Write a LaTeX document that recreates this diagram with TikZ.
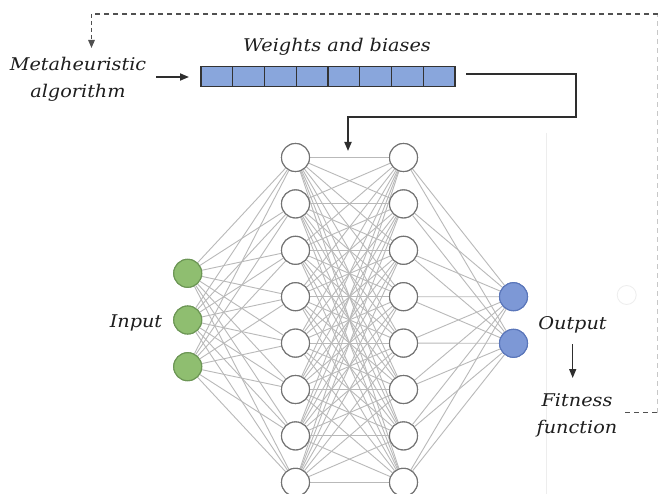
\documentclass[tikz,border=0pt]{standalone}
\usepackage{fontspec}
\newfontfamily\lblfont[FakeStretch=1.1]{DejaVu Serif}
\usetikzlibrary{arrows.meta}
\definecolor{ingreen}{RGB}{143,190,112}
\definecolor{ingreenb}{RGB}{108,150,85}
\definecolor{outblue}{RGB}{125,152,214}
\definecolor{outblueb}{RGB}{90,118,186}
\definecolor{cellblue}{RGB}{137,166,220}
\definecolor{edgegray}{RGB}{185,185,185}
\definecolor{dashgray}{RGB}{80,80,80}
\definecolor{txtgray}{RGB}{30,30,30}
\tikzset{
  lbl/.style={font=\lblfont\itshape\fontsize{17.5}{27}\selectfont, text=txtgray, inner sep=0pt, align=center},
  neuron/.style={circle, minimum size=28pt, inner sep=0pt, line width=1.1pt},
  hid/.style={neuron, draw=black!55, fill=white},
  inp/.style={neuron, draw=ingreenb, fill=ingreen},
  outn/.style={neuron, draw=outblueb, fill=outblue},
  cell/.style={draw=black!80, fill=cellblue, line width=1.1pt, minimum width=31.75pt, minimum height=20pt, inner sep=0pt, outer sep=0pt},
  conn/.style={draw=edgegray, line width=0.9pt},
  flow/.style={draw=black!82, line width=1.7pt},
  loop/.style={draw=dashgray, line width=1.4pt, dash pattern=on 5pt off 4pt},
  tip/.style={-{Triangle[length=9pt,width=7pt]}},
}
\begin{document}
\begin{tikzpicture}[x=1pt,y=-1pt]
\useasboundingbox (0,0) rectangle (658,494);
\fill[white] (0,0) rectangle (658,494);
% faint artifacts
\draw[black!7, line width=0.8pt] (546.7,133) -- (546.7,494);
\draw[black!7, line width=0.8pt] (626.7,295) circle (9.5);
% nodes
\foreach \i in {0,...,7} {
  \node[hid] (a\i) at (295.5,{157.5+46.4*\i}) {};
  \node[hid] (b\i) at (403.5,{157.5+46.4*\i}) {};
}
\foreach \i in {0,1,2} {
  \node[inp] (x\i) at (187.7,{273.3+46.7*\i}) {};
}
\foreach \i in {0,1} {
  \node[outn] (y\i) at (513.5,{296.7+46.6*\i}) {};
}
% connections
\foreach \i in {0,1,2} \foreach \j in {0,...,7} \draw[conn] (x\i) -- (a\j);
\foreach \i in {0,...,7} \foreach \j in {0,...,7} \draw[conn] (a\i) -- (b\j);
\foreach \i in {0,...,7} \foreach \j in {0,1} \draw[conn] (b\i) -- (y\j);
% redraw nodes on top
\foreach \i in {0,...,7} {
  \node[hid] at (a\i) {};
  \node[hid] at (b\i) {};
}
\foreach \i in {0,1,2} \node[inp] at (x\i) {};
\foreach \i in {0,1} \node[outn] at (y\i) {};
% array
\foreach \k in {0,...,7} {
  \node[cell] (c\k) at ({201+31.75*\k+15.875},76.5) {};
}
% labels
\node[lbl] (meta) at (78,79) {Metaheuristic\\algorithm};
\node[lbl] (wb) at (337,47) {Weights and biases};
\node[lbl] (inlbl) at (136,323) {Input};
\node[lbl] (outlbl) at (572.5,325) {Output};
\node[lbl] (fit) at (577,415) {Fitness\\function};
% flow arrows
\coordinate (mstart) at (156,77);
\draw[flow,tip,shorten >=12pt] (mstart) -- (c0.west |- mstart);
\coordinate (bs) at (466,74);
\coordinate (bc1) at (575.7,74);
\coordinate (bc2) at (575.7,117.3);
\coordinate (bc3) at (348,117.3);
\coordinate (bend) at (348,151);
\draw[flow,tip] (bs) -- (bc1) -- (bc2) -- (bc3) -- (bend);
\coordinate (oa) at (572.7,344);
\coordinate (ob) at (572.7,378);
\draw[flow,tip,line width=1.4pt] (oa) -- (ob);
% feedback loop
\coordinate (d0) at (625,412.7);
\coordinate (d1) at (657.3,412.7);
\coordinate (d2) at (657.3,14);
\coordinate (d3) at (91.5,14);
\coordinate (d4) at (91.5,48);
\draw[loop] (d0) -- (d1);
\draw[loop, draw=black!22] (d1) -- (d2);
\draw[loop] (658,14) -- (d3);
\draw[loop,-{Triangle[length=8pt,width=6.5pt]}, dash pattern=on 4pt off 3pt] (d3) -- (d4);
\end{tikzpicture}
\end{document}
